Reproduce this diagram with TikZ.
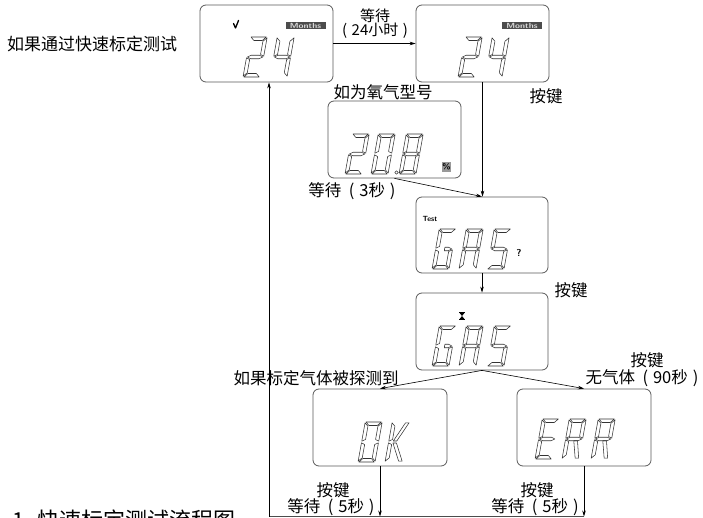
\documentclass[tikz,border=0pt]{standalone}
\usepackage{graphicx}
\usepackage{fontspec}
\setmainfont{Noto Sans CJK SC}
\usetikzlibrary{arrows.meta}
\newcommand\LP{\hspace{0.45em}(\hspace{0.3em}}
\newcommand\RP{\hspace{0.3em})}
% seven-segment pieces (local coords, y up, W=17, H=40)
\newcommand\sgA{\draw[seg] (0.8,40)--(16.2,40)--(12.7,36.5)--(4.3,36.5)--cycle;}
\newcommand\sgD{\draw[seg] (0.8,0)--(16.2,0)--(12.7,3.5)--(4.3,3.5)--cycle;}
\newcommand\sgG{\draw[seg] (0.8,20)--(4.3,21.75)--(12.7,21.75)--(16.2,20)--(12.7,18.25)--(4.3,18.25)--cycle;}
\newcommand\sgH{\draw[seg] (9,21.75)--(12.7,21.75)--(16.2,20)--(12.7,18.25)--(9,18.25)--cycle;}
\newcommand\sgF{\draw[seg] (0,39.2)--(0,20.8)--(3.5,22.55)--(3.5,35.7)--cycle;}
\newcommand\sgB{\draw[seg] (17,39.2)--(17,20.8)--(13.5,22.55)--(13.5,35.7)--cycle;}
\newcommand\sgE{\draw[seg] (0,0.8)--(0,19.2)--(3.5,17.45)--(3.5,4.3)--cycle;}
\newcommand\sgC{\draw[seg] (17,0.8)--(17,19.2)--(13.5,17.45)--(13.5,4.3)--cycle;}
\newcommand\sgK{\draw[seg] (4.5,21)--(13.5,39.2)--(17,39.2)--(8,21)--cycle;}
\newcommand\sgL{\draw[seg] (4.5,19)--(13.5,0.8)--(17,0.8)--(8,19)--cycle;}
\newcommand\sgR{\draw[seg] (8.5,18.25)--(13,0.8)--(16.5,0.8)--(12.2,18.25)--cycle;}
\newcommand\lcdchar[3]{\begin{scope}[shift={(#1,#2)},yscale=-1,xslant=-0.18]\foreach \s in {#3}{\csname sg\s\endcsname}\end{scope}}
\begin{document}
\begin{tikzpicture}[x=1pt,y=-1pt,
  lcdbox/.style={draw=black!65, line width=0.8pt, rounded corners=6pt, minimum width=133pt, minimum height=77pt, inner sep=0},
  seg/.style={draw=black!80, line width=0.55pt, line join=round},
  arr/.style={draw=black, line width=0.6pt, -{Stealth[length=6pt,width=3.5pt]}},
  ln/.style={draw=black!70, line width=0.6pt},
  lbl/.style={font=\fontsize{16.5}{18}\selectfont, inner sep=0},
  tag/.style={fill=black!70, text=white!85!black, font=\fontsize{7.5}{7.5}\sffamily\bfseries, minimum width=40pt, minimum height=7.5pt, inner sep=0}
]
\useasboundingbox (0,0) rectangle (703,518);
\clip (0,0) rectangle (703,518);

% boxes
\node[lcdbox] (b1) at (266.5,43.5) {};
\node[lcdbox] (b2) at (482.5,43.5) {};
\node[lcdbox] (b3) at (394.5,139.5) {};
\node[lcdbox, minimum width=132pt, minimum height=76pt] (b4) at (482,235) {};
\node[lcdbox, minimum width=132pt] (b5) at (482,331.5) {};
\node[lcdbox, minimum width=134pt] (b6) at (380,427.5) {};
\node[lcdbox, minimum width=134pt] (b7) at (584,427.5) {};

% box 1 content
\draw[line width=1.3pt, line cap=round, line join=round] (233.5,23.5) -- (235.5,28) -- (238.5,20.5);
\node[tag] (m1) at (305.5,25.5) {\scalebox{1.2}[1]{Months}};
\lcdchar{243}{77}{A,B,G,E,D}
\lcdchar{270}{77}{F,G,B,C}
% box 2 content
\node[tag] (m2) at (522,25.5) {\scalebox{1.2}[1]{Months}};
\lcdchar{458}{77}{A,B,G,E,D}
\lcdchar{485}{77}{F,G,B,C}
% box 3 content
\lcdchar{345}{174}{A,B,G,E,D}
\lcdchar{371}{174}{A,B,C,D,E,F}
\draw[seg] (396.5,172.5) circle (1.8pt);
\lcdchar{399}{174}{A,B,C,D,E,F,G}
\node[fill=black!40, minimum width=9pt, minimum height=10pt, inner sep=0, font=\fontsize{8}{8}\sffamily\bfseries] (pct) at (446.5,167) {\%};
% box 4 content
\node[font=\fontsize{7.5}{7.5}\sffamily\bfseries, inner sep=0] (test) at (430,219) {Test};
\lcdchar{432}{269}{A,F,E,D,C,H}
\lcdchar{459}{269}{A,B,C,E,F,G}
\lcdchar{487}{269}{A,F,G,C,D}
\node[font=\fontsize{10}{10}\sffamily\bfseries, inner sep=0] (q) at (519,253) {?};
% box 5 content
\fill (459,312) rectangle (465,313.2);
\fill (459,318.8) rectangle (465,320);
\fill (459.6,313) -- (464.4,313) -- (462,316) -- cycle;
\fill (462,316) -- (464.4,319) -- (459.6,319) -- cycle;
\lcdchar{432}{366}{A,F,E,D,C,H}
\lcdchar{459}{366}{A,B,C,E,F,G}
\lcdchar{487}{366}{A,F,G,C,D}
% box 6 content
\lcdchar{358}{462}{A,B,C,D,E,F}
\lcdchar{385}{462}{F,E,K,L}
% box 7 content
\lcdchar{535}{459}{A,F,G,E,D}
\lcdchar{562}{459}{A,B,F,G,E,R}
\lcdchar{591}{459}{A,B,F,G,E,R}

% connectors
\coordinate (cb) at (269,516.5);
\draw[arr] (b1) -- (b2);
\draw[arr] (b2.south) -- (b2.south |- b4.north);
\draw[arr] (b3.south) -- (b4.north);
\draw[arr] (b4.south) -- (b5.north);
\draw[arr] (b5.south) -- (b6.north);
\draw[arr] (b5.south) -- (b7.north);
\draw[arr] (b6.south) -- (b6.south |- cb);
\draw[arr] (b7.south) -- (b7.south |- cb);
\draw[ln] (b7.south |- cb) -- (cb);
\draw[arr] (cb) -- (cb |- b1.south);

% labels
\node[lbl, font=\fontsize{15}{17}\selectfont] (t1) at (375,16) {等待};
\node[lbl, font=\fontsize{15}{17}\selectfont] (t2) at (375,31) {(\hspace{0.3em}24小时\hspace{0.3em})};
\node[lbl, font=\fontsize{17}{19}\selectfont, anchor=west] (t3) at (7,44) {如果通过快速标定测试};
\node[lbl] (t4) at (383,92) {如为氧气型号};
\node[lbl] (t5) at (546,96) {按键};
\node[lbl] (t6) at (352,191) {等待\LP 3秒\RP};
\node[lbl] (t7) at (571,290) {按键};
\node[lbl] (t8) at (316,378) {如果标定气体被探测到};
\node[lbl] (t9) at (647,360) {按键};
\node[lbl] (t10) at (642,378) {无气体\LP 90秒\RP};
\node[lbl] (t11) at (333,490) {按键};
\node[lbl] (t12) at (331,507) {等待\LP 5秒\RP};
\node[lbl] (t13) at (537,490) {按键};
\node[lbl] (t14) at (535,507) {等待\LP 5秒\RP};
\node[font=\fontsize{22}{24}\selectfont, anchor=base west, inner sep=0] (cap) at (12,528) {1\hspace{0.6em}快速标定测试流程图};
\end{tikzpicture}
\end{document}
